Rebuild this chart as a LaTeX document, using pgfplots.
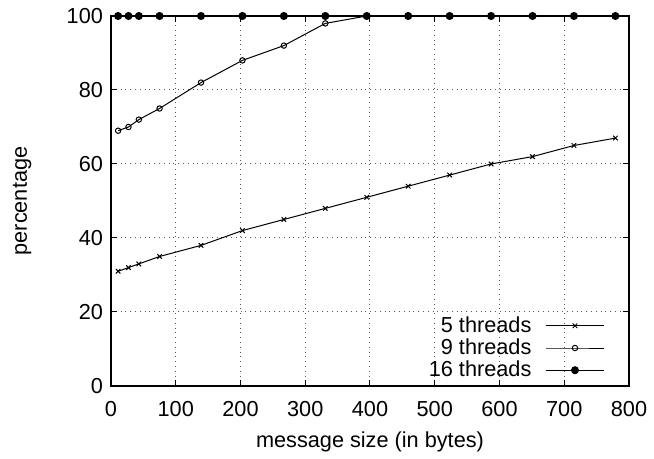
\documentclass[border=0pt]{standalone}
\usepackage{fontspec}
\setmainfont{Liberation Sans}
\usepackage{pgfplots}
\pgfplotsset{compat=1.18}
\begin{document}
\begin{tikzpicture}[font=\fontsize{10.85}{13}\selectfont]
\path[use as bounding box] (-55.5pt,-36.5pt) rectangle (271.5pt,193pt);
\begin{axis}[
    width=259pt, height=185pt, scale only axis,
    xmin=0, xmax=800, ymin=0, ymax=100,
    xtick={0,100,...,800}, ytick={0,20,...,100},
    /pgf/number format/assume math mode=true,
    xticklabel style={yshift=-4pt},
    yticklabel style={xshift=-0.5pt},
    xlabel={message size (in bytes)},
    ylabel={percentage},
    xlabel style={at={(axis description cs:0.5,-0.1524)}, anchor=center},
    ylabel style={at={(axis description cs:-0.1718,0.5)}, anchor=center},
    grid=major,
    grid style={dotted, gray!70!black, line width=0.5pt},
    axis line style={line width=0.6pt},
    tick align=inside, major tick length=3pt,
    tick style={black, line width=0.5pt},
    clip=false,
    legend style={draw=none, fill=none, at={(1,0)}, anchor=south east,
        xshift=-9pt, yshift=0pt, row sep=-0.25pt, column sep=6pt,
        legend cell align=right,
        nodes={inner sep=1pt}},
    legend plot pos=right,
    legend image code/.code={\draw[mark repeat=2,mark phase=2,#1]
        plot coordinates {(0pt,0pt) (14.5pt,0pt) (29pt,0pt)};},
]
\addplot[black, line width=0.5pt, mark=x, mark size=1.6pt] coordinates {
(11,31) (27,32) (43,33) (75,35) (139,38) (203,42) (267,45) (331,48)
(395,51) (459,54) (523,57) (587,60) (651,62) (715,65) (779,67)};
\addlegendentry{5 threads}
\addplot[black, line width=0.5pt, mark=o, mark size=1.35pt] coordinates {
(11,69) (27,70) (43,72) (75,75) (139,82) (203,88) (267,92) (331,98)
(395,100) (459,100) (523,100) (587,100) (651,100) (715,100) (779,100)};
\addlegendentry{9 threads}
\addplot[black, line width=0.6pt, mark=*, mark size=1.7pt] coordinates {
(11,100) (27,100) (43,100) (75,100) (139,100) (203,100) (267,100) (331,100)
(395,100) (459,100) (523,100) (587,100) (651,100) (715,100) (779,100)};
\addlegendentry{16 threads}
\end{axis}
\end{tikzpicture}
\end{document}
